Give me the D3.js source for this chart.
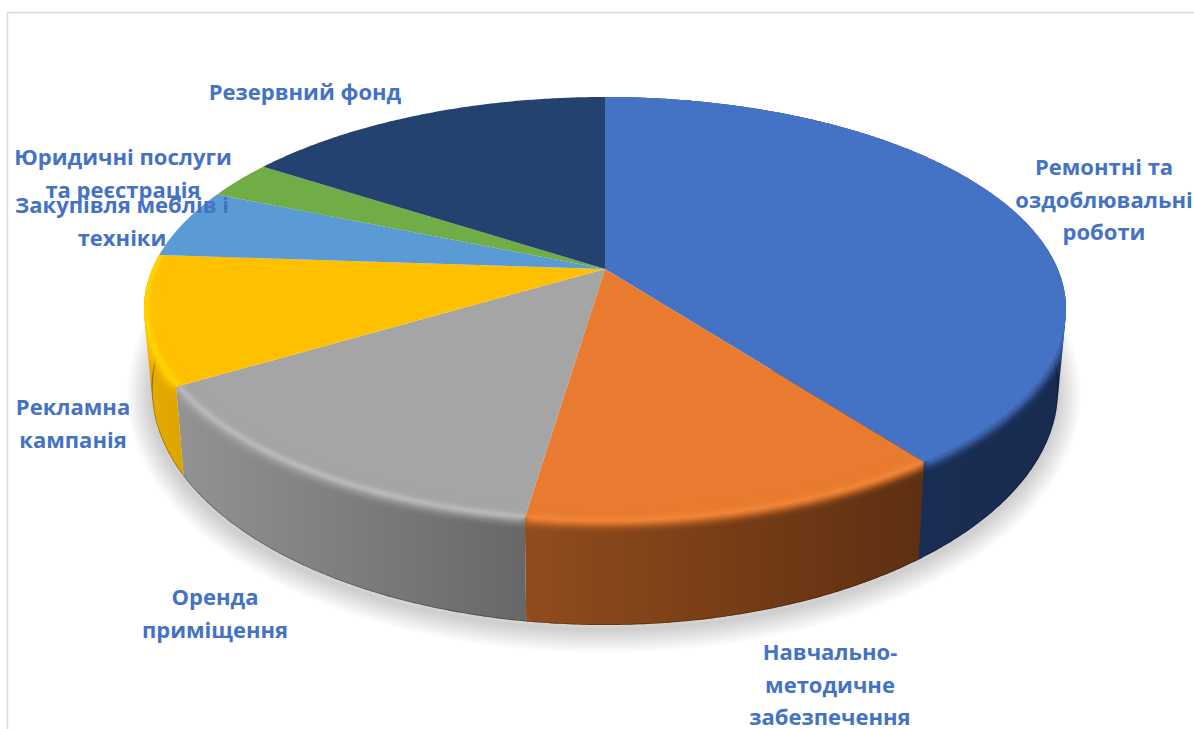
<!DOCTYPE html>
<html lang="uk">
<head>
<meta charset="utf-8">
<script src="https://cdn.jsdelivr.net/npm/d3@7"></script>
<style>
  html, body { margin: 0; padding: 0; background: #fff; }
  svg { display: block; }
  text { font-family: "Open Sans", "Noto Sans", sans-serif; font-weight: 700; fill: #4472c4; text-anchor: middle; }
</style>
</head>
<body>
<div id="chart"></div>
<script>
// Budget shares, clockwise from twelve o'clock
const categories = [
  "Ремонтні та оздоблювальні роботи",
  "Навчально-методичне забезпечення",
  "Оренда приміщення",
  "Рекламна кампанія",
  "Закупівля меблів і техніки",
  "Юридичні послуги та реєстрація",
  "Резервний фонд"
];
const shares = [39.8, 12.5, 14, 9.8, 5.3, 2.9, 15.7];

// Slice styling
const faceColors = ["#4472c4", "#e87b2f", "#a5a5a5", "#ffc000", "#5b9bd5", "#70ad47", "#23426f"];
const wallLeft   = ["#1c3463", "#914c1d", "#939393", "#e6ac00", "#4a7fb0", "#5a8c39", "#1a3053"];
const wallRight  = ["#182b4e", "#5d2f11", "#676767", "#dca500", "#4a7fb0", "#5a8c39", "#1a3053"];
const rimColors  = [null, "#f58a3c", "#c6c6c6", "#ffd900", null, null, null];
const frontSlices = [true, true, true, true, false, false, false];

// Label lines and their centres, one row per category
const labelLines = [
  ["Ремонтні та", "оздоблювальні", "роботи"],
  ["Навчально-", "методичне", "забезпечення"],
  ["Оренда", "приміщення"],
  ["Рекламна", "кампанія"],
  ["Закупівля меблів і", "техніки"],
  ["Юридичні послуги", "та реєстрація"],
  ["Резервний фонд"]
];
const labelCentres = [[1104, 167], [830, 652], [215, 597], [73, 407], [122, 205], [123, 157], [305, 92]];
const labelRow = 32.6;
const labelSize = 22;

const width = 1194, height = 729;
const svg = d3.select("#chart").append("svg").attr("width", width).attr("height", height);
const defs = svg.append("defs");

[["softCrest", 2], ["softBand", 3.6]].forEach(([id, sd]) => {
  defs.append("filter").attr("id", id)
    .attr("filterUnits", "userSpaceOnUse")
    .attr("x", 0).attr("y", 0).attr("width", width).attr("height", height)
    .append("feGaussianBlur").attr("stdDeviation", sd);
});

// Upper disc and lower disc of the drum, as scales over the unit circle
const topX = d3.scaleLinear([-1, 1], [605 - 461, 605 + 461]);
const topY = d3.scaleLinear([-1, 1], [309 - 212, 309 + 212]);
const botX = d3.scaleLinear([-1, 1], [605 - 453, 605 + 453]);
const botY = d3.scaleLinear([-1, 1], [390 - 235, 390 + 235]);

// Perspective tilt: moves the disc's centre up inside its outline, keeping the circle a circle
const tilt = -0.189;
const squeeze = Math.sqrt(1 - tilt * tilt);
function project(a) {
  const u = Math.sin(a), v = -Math.cos(a), w = 1 + tilt * v;
  return [u * squeeze / w, (v + tilt) / w];
}
const onTop = a => { const [x, y] = project(a); return [topX(x), topY(y)]; };
const onBot = a => { const [x, y] = project(a); return [botX(x), botY(y)]; };
const apex = [topX(0), topY(tilt)];

const pie = d3.pie().sort(null).value(d => d)(shares);
const line = d3.line();
const closed = pts => line(pts) + "Z";
const sweep = (a0, a1) => {
  const n = Math.max(2, Math.ceil((a1 - a0) / 0.008));
  return d3.range(n + 1).map(i => a0 + (a1 - a0) * i / n);
};
const slices = pie.map((d, i) => {
  const angles = sweep(d.startAngle, d.endAngle);
  const rim = angles.map(onTop);
  const foot = angles.map(onBot);
  // The wall is the hull of rim and foot, so the silhouette runs straight off the rim
  return { i, rim, foot, face: closed([apex, ...rim]), wall: closed(d3.polygonHull([...rim, ...foot])) };
});
const front = slices.filter(s => frontSlices[s.i]);

// Frame on the top and left
svg.append("path")
  .attr("d", line([[7.5, height], [7.5, 12.5], [width, 12.5]]))
  .attr("fill", "none").attr("stroke", "#d9d9d9").attr("stroke-width", 1.5);

// Soft shadow on the ground: the foot outline stacked at growing widths fades out with distance
const footOutline = closed(sweep(0, 2 * Math.PI).map(onBot));
svg.append("g").attr("transform", "translate(-1,4)")
  .selectAll("path").data(d3.range(3, 50, 3)).join("path")
  .attr("d", footOutline)
  .attr("fill", "none")
  .attr("stroke", "#000").attr("stroke-opacity", 0.013)
  .attr("stroke-linejoin", "round")
  .attr("stroke-width", d => d);

front.forEach(s => {
  const g = defs.append("linearGradient").attr("id", "wall" + s.i);
  g.append("stop").attr("offset", 0).attr("stop-color", wallLeft[s.i]);
  g.append("stop").attr("offset", 1).attr("stop-color", wallRight[s.i]);
  const c = defs.append("clipPath").attr("id", "hull" + s.i);
  c.append("path").attr("d", s.face);
  c.append("path").attr("d", s.wall);
});

// Side walls
svg.append("g").selectAll("path").data(front).join("path")
  .attr("d", d => d.wall)
  .attr("fill", d => `url(#wall${d.i})`);

// Dark seam along the foot of the wall
svg.append("g").selectAll("path").data(front).join("path")
  .attr("d", d => line(d.foot))
  .attr("fill", "none").attr("stroke", "#000").attr("stroke-opacity", 0.3).attr("stroke-width", 1.6)
  .attr("clip-path", d => `url(#hull${d.i})`);

// Top faces
svg.append("g").selectAll("path").data(slices).join("path")
  .attr("d", d => d.face)
  .attr("fill", d => faceColors[d.i]);

// Rounded edge: the face colour bleeds over the wall, with a light crest on the lit slices
const edge = svg.append("g");
front.forEach(s => {
  const holder = edge.append("g").attr("clip-path", `url(#hull${s.i})`);
  holder.append("path").attr("d", line(s.rim))
    .attr("fill", "none").attr("stroke", faceColors[s.i])
    .attr("stroke-width", 10).attr("filter", "url(#softBand)");
  if (rimColors[s.i]) {
    holder.append("path").attr("d", line(s.rim.map(p => [p[0] + (p[0] < 605 ? 2 : 0), p[1] - 1])))
      .attr("fill", "none").attr("stroke", rimColors[s.i])
      .attr("stroke-width", s.i === 3 ? 5 : 3.5).attr("filter", "url(#softCrest)");
  }
});

// Category labels
svg.append("g").selectAll("text").data(labelLines).join("text")
  .attr("font-size", labelSize)
  .attr("aria-label", (d, i) => categories[i])
  .each(function (rows, i) {
    d3.select(this).selectAll("tspan").data(rows).join("tspan")
      .attr("x", labelCentres[i][0])
      .attr("y", (r, k) => labelCentres[i][1] + k * labelRow + labelSize * 0.36)
      .text(r => r);
  });
</script>
</body>
</html>
